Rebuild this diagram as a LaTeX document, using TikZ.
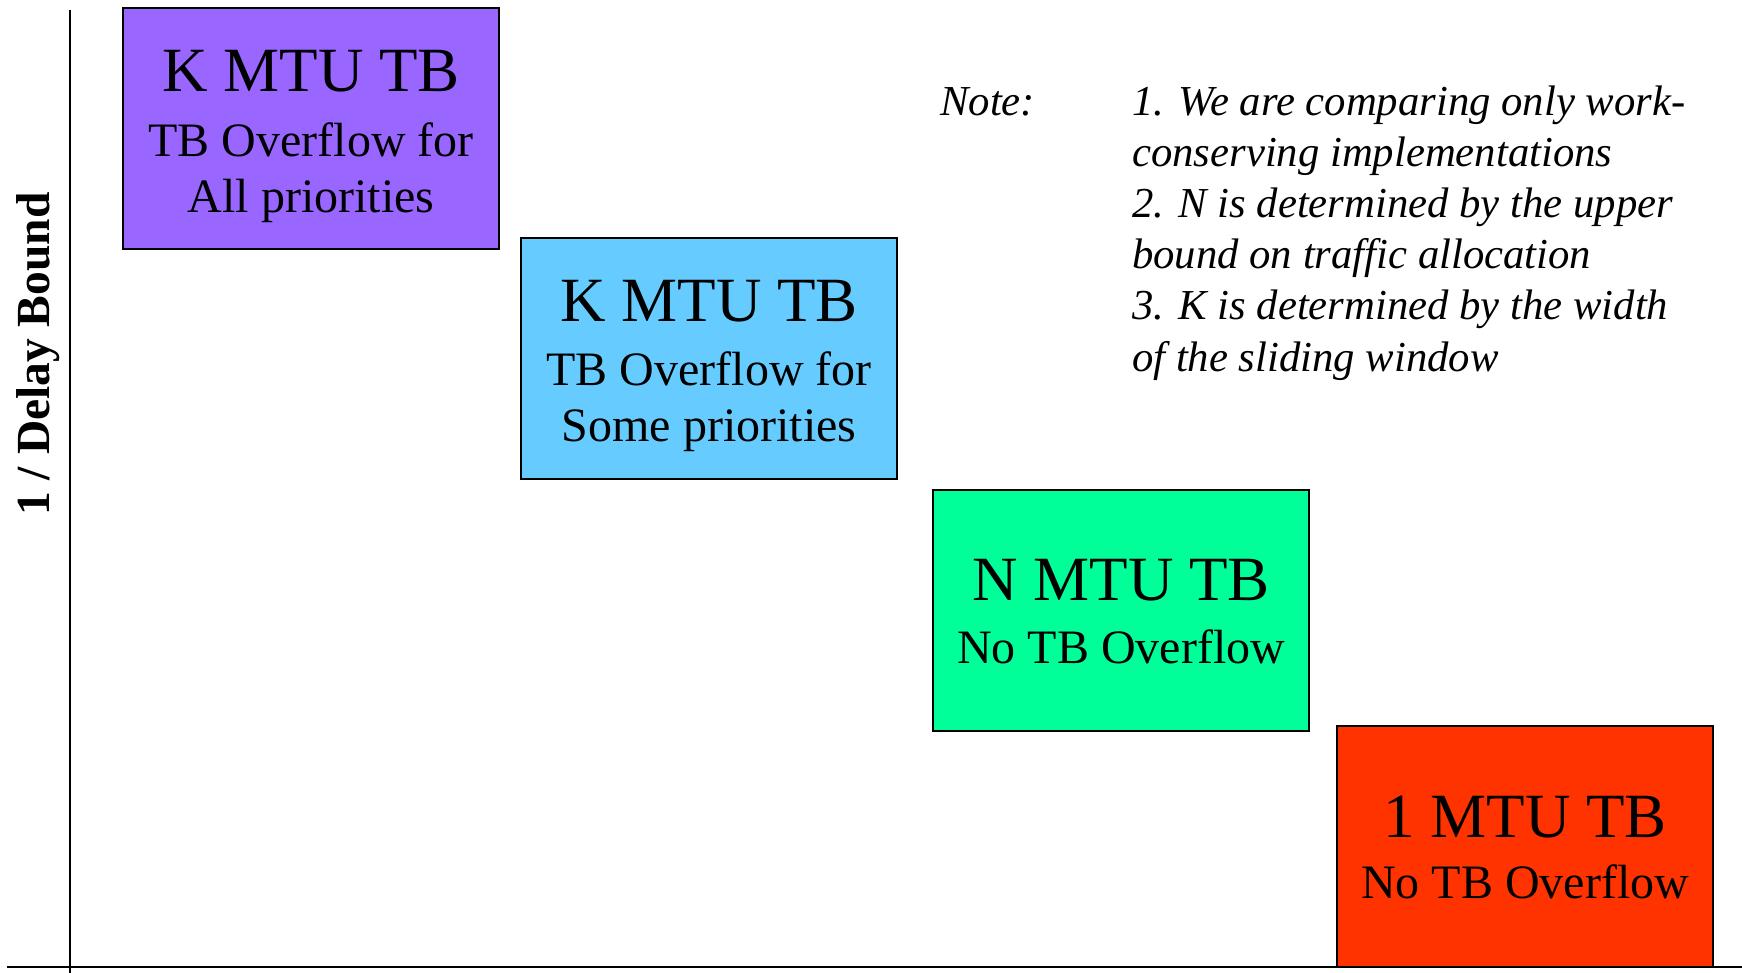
\documentclass[tikz,border=0pt]{standalone}
\usepackage{fontspec}
\setmainfont{Liberation Serif}
\definecolor{cpurple}{HTML}{9966FF}
\definecolor{cblue}{HTML}{66CCFF}
\definecolor{cgreen}{HTML}{00FF99}
\definecolor{cred}{HTML}{FF3300}
\tikzset{
  box/.style={draw=black, line width=2.2pt, minimum width=376pt, minimum height=241pt, inner sep=0pt, anchor=north west},
  bigtxt/.style={anchor=base, inner sep=0pt, font=\fontsize{63}{70}\selectfont},
  smalltxt/.style={anchor=base, inner sep=0pt, font=\fontsize{48}{56}\selectfont},
  notetxt/.style={anchor=base west, inner sep=0pt, font=\fontsize{42.7}{50}\selectfont\itshape},
  axis/.style={line width=2.6pt},
}
\begin{document}
\begin{tikzpicture}[x=1pt,y=-1pt]
\useasboundingbox (0,0) rectangle (1742,973);
% axes
\coordinate (ytop) at (70,10);
\coordinate (ybot) at (70,973);
\coordinate (xleft) at (7,967);
\coordinate (xright) at (1742,967);
\draw[axis] (ytop) -- (ybot);
\node[rotate=90, anchor=base, inner sep=0pt, font=\fontsize{47.5}{50}\selectfont\bfseries] (ylab) at (49,354) {1 / Delay Bound};
% boxes
\node[box, fill=cpurple] (P) at (122,7) {};
\node[bigtxt] (P1) at ([yshift=-85pt]P.north) {K MTU TB};
\node[smalltxt] (P2) at ([yshift=-150pt]P.north) {TB Overflow for};
\node[smalltxt] (P3) at ([yshift=-206pt]P.north) {All priorities};
\node[box, fill=cblue] (B) at (520,237) {};
\node[bigtxt] (B1) at ([yshift=-85pt]B.north) {K MTU TB};
\node[smalltxt] (B2) at ([yshift=-148pt]B.north) {TB Overflow for};
\node[smalltxt] (B3) at ([yshift=-204pt]B.north) {Some priorities};
\node[box, fill=cgreen] (G) at (932,489) {};
\node[bigtxt] (G1) at ([yshift=-111pt]G.north) {N MTU TB};
\node[smalltxt] (G2) at ([yshift=-174pt]G.north) {No TB Overflow};
\node[box, fill=cred] (R) at (1336,725) {};
\node[bigtxt] (R1) at ([yshift=-112pt]R.north) {1 MTU TB};
\node[smalltxt] (R2) at ([yshift=-173pt]R.north) {No TB Overflow};
\draw[axis] (xleft) -- (xright);
% note
\node[notetxt] (note) at (940,116) {Note:};
\node[notetxt] (n1) at (1132,116) {1. We are comparing only work-};
\node[notetxt] (n2) at (1132,167) {conserving implementations};
\node[notetxt] (n3) at (1132,218) {2. N is determined by the upper};
\node[notetxt] (n4) at (1132,269) {bound on traffic allocation};
\node[notetxt] (n5) at (1132,320) {3. K is determined by the width};
\node[notetxt] (n6) at (1132,371) {of the sliding window};
\end{tikzpicture}
\end{document}
